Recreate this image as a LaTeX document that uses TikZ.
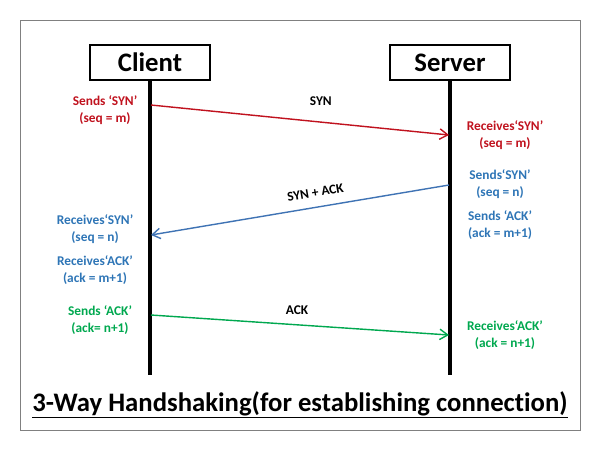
\documentclass[tikz,border=0pt]{standalone}
\usepackage{fontspec}
\setmainfont{Carlito}[Ligatures=NoCommon]
\usepackage{tikz}
\usetikzlibrary{arrows,arrows.meta}
\usetikzlibrary{positioning}

\definecolor{synred}{HTML}{C0121E}
\definecolor{ackblue}{HTML}{2E75B6}
\definecolor{linkblue}{HTML}{3F73B4}
\definecolor{ackgreen}{HTML}{00A84F}

\tikzset{
	hostbox/.style={draw, line width=1.2pt, minimum width=3cm, minimum height=0.875cm, font=\fontsize{19}{22}\selectfont\bfseries},
	lifeline/.style={line width=3pt},
	info/.style={align=center, inner sep=0pt, font=\fontsize{9.5}{12}\selectfont\bfseries},
	msg/.style={inner sep=0pt, font=\fontsize{9.5}{12}\selectfont\bfseries},
	msgarrow/.style={line width=1pt, -{Straight Barb[length=2mm, width=2.6mm]}}
}

\begin{document}
\begin{tikzpicture}[x=0.025cm, y=-0.025cm]
	\useasboundingbox (0,0) rectangle (600,450);
	\draw[gray, line width=0.7pt] (20,20) rectangle (580,430);
	\node[hostbox] (client) at (150,62.5) {Client};
	\node[hostbox] (server) at (450,62.5) {Server};
	\coordinate (cend) at (150,375);
	\coordinate (send) at (450,375);
	\draw[lifeline] (client.south) -- (cend);
	\draw[lifeline] (server.south) -- (send);
	\coordinate (c1) at (151,105);
	\coordinate (s1) at (449,135);
	\coordinate (s2) at (449,185);
	\coordinate (c2) at (151,235);
	\coordinate (c3) at (151,315);
	\coordinate (s3) at (449,335);
	\draw[msgarrow, synred] (c1) -- node[msg, black, pos=0.57, above=11pt] {SYN} (s1);
	\draw[msgarrow, linkblue] (s2) -- node[msg, black, pos=0.44, sloped, above=7pt] {SYN + ACK} (c2);
	\draw[msgarrow, ackgreen] (c3) -- node[msg, black, pos=0.49, above=6.5pt] {ACK} (s3);
	\node[info, synred] (csyn) at (105,110) {Sends ‘SYN’\\(seq = m)};
	\node[info, synred] (ssyn) at (505,135) {Receives‘SYN’\\(seq = m)};
	\node[info, ackblue] (ssynack) at (500,184) {Sends‘SYN’\\(seq = n)};
	\node[info, ackblue] (sack) at (500,225) {Sends ‘ACK’\\(ack = m+1)};
	\node[info, ackblue] (crsyn) at (95,229) {Receives‘SYN’\\(seq = n)};
	\node[info, ackblue] (crack) at (95,270) {Receives‘ACK’\\(ack = m+1)};
	\node[info, ackgreen] (csack) at (100,320) {Sends ‘ACK’\\(ack= n+1)};
	\node[info, ackgreen] (srack) at (505,335) {Receives‘ACK’\\(ack = n+1)};
	\node[font=\fontsize{19}{22}\selectfont\bfseries] (title) at (300,405) {\underline{3-Way Handshaking(for establishing connection)}};
\end{tikzpicture}
\end{document}
